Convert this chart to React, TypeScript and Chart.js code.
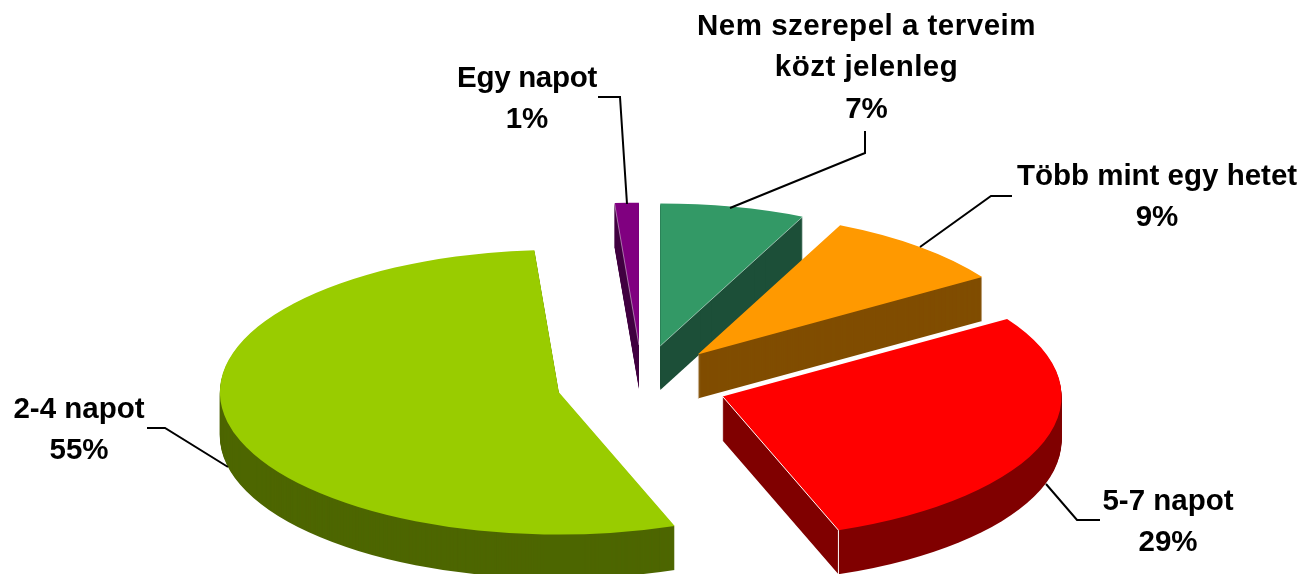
import React, { useEffect, useRef } from "react";
import { Chart, registerables } from "chart.js";

Chart.register(...registerables);

// Data, clockwise from twelve o'clock
const categories = ["Nem szerepel a terveim közt jelenleg", "Több mint egy hetet", "5-7 napot", "2-4 napot", "Egy napot"];
const labelLines = [
  ["Nem szerepel a terveim", "közt jelenleg"],
  ["Több mint egy hetet"],
  ["5-7 napot"],
  ["2-4 napot"],
  ["Egy napot"],
];
const values = [6.9, 8.95, 28.6, 54.4, 1.15];
const percentLabels = ["7%", "9%", "29%", "55%", "1%"];
const topColors = ["#339966", "#FF9900", "#FF0000", "#99CC00", "#800080"];
const wallColors = ["#1C4F38", "#804D00", "#800000", "#4D6600", "#400040"];

// Presentation
const CENTER_X = 642;
const CENTER_Y = 384;
const RADIUS = 339;
const SQUASH = 0.42;
const EXPLODE_X = 85;
const EXPLODE_Y = 39;
const DEPTH = 44;
const FONT = 'bold 29.5px "Liberation Sans", Arial, sans-serif';
const LINE_HEIGHT = 41.5;
const labelAnchors = [
  { x: 866.5, y: 26.5 },
  { x: 1157, y: 176.5 },
  { x: 1168, y: 501.5 },
  { x: 79, y: 409.5 },
  { x: 527, y: 78.5 },
];
const labelTracking = ["0.5px", "0px", "0px", "0px", "-0.3px"];
const leaders = [
  [[865, 131], [865, 153], [730, 208]],
  [[1012, 196], [991, 196], [920, 247]],
  [[1046, 484], [1077, 520], [1100, 520]],
  [[147, 428], [165, 428], [228, 467]],
  [[598, 97], [620, 97], [627, 204]],
];
const paintOrder = [4, 0, 1, 2, 3];
const edgeLines = [
  { side: "endAngle", color: "rgba(255,255,255,0.5)", corner: false },
  null,
  { side: "endAngle", color: "#ffffff", corner: true },
  null,
  { side: "startAngle", color: "rgba(255,255,255,0.45)", corner: false },
];

const pie3d = {
  id: "pie3d",
  beforeDatasetsDraw(chart: any) {
    const ctx: CanvasRenderingContext2D = chart.ctx;
    const arcs = chart.getDatasetMeta(0).data;
    const origin = (arc: any) => {
      const mid = (arc.startAngle + arc.endAngle) / 2;
      return [CENTER_X + Math.cos(mid) * EXPLODE_X, CENTER_Y + Math.sin(mid) * EXPLODE_Y];
    };
    const place = (arc: any, dy: number) => {
      const [ox, oy] = origin(arc);
      ctx.translate(ox, oy + dy);
      ctx.scale(1, SQUASH);
      ctx.translate(-arc.x, -arc.y);
    };
    for (const i of paintOrder) {
      const arc = arcs[i];
      ctx.fillStyle = wallColors[i];
      for (let d = DEPTH; d > 0; d--) {
        ctx.save();
        place(arc, d);
        ctx.beginPath();
        ctx.moveTo(arc.x, arc.y);
        ctx.arc(arc.x, arc.y, arc.outerRadius, arc.startAngle, arc.endAngle);
        ctx.closePath();
        ctx.fill();
        ctx.restore();
      }
      ctx.save();
      place(arc, 0);
      arc.draw(ctx);
      ctx.restore();

      const edge = edgeLines[i];
      if (edge) {
        const [ox, oy] = origin(arc);
        const angle = arc[edge.side];
        const ex = ox + Math.cos(angle) * arc.outerRadius;
        const ey = oy + Math.sin(angle) * arc.outerRadius * SQUASH;
        ctx.save();
        ctx.strokeStyle = edge.color;
        ctx.lineWidth = 1;
        ctx.beginPath();
        ctx.moveTo(ox, oy);
        ctx.lineTo(ex, ey);
        if (edge.corner) ctx.lineTo(ex, ey + DEPTH);
        ctx.stroke();
        ctx.restore();
      }
    }
    return false;
  },
  afterDraw(chart: any) {
    const ctx: CanvasRenderingContext2D = chart.ctx;
    ctx.save();
    ctx.strokeStyle = "#000000";
    ctx.lineWidth = 2;
    ctx.lineJoin = "miter";
    for (const pts of leaders) {
      ctx.beginPath();
      pts.forEach(([x, y], k) => (k ? ctx.lineTo(x, y) : ctx.moveTo(x, y)));
      ctx.stroke();
    }
    ctx.fillStyle = "#000000";
    ctx.font = FONT;
    ctx.textAlign = "center";
    ctx.textBaseline = "middle";
    labelLines.forEach((lines, i) => {
      const a = labelAnchors[i];
      (ctx as any).letterSpacing = labelTracking[i];
      lines.forEach((t, k) => ctx.fillText(t, a.x, a.y + k * LINE_HEIGHT));
      (ctx as any).letterSpacing = "0px";
      ctx.fillText(percentLabels[i], a.x, a.y + lines.length * LINE_HEIGHT);
    });
    ctx.restore();
  },
};

export default function App() {
  const ref = useRef<HTMLCanvasElement>(null);
  useEffect(() => {
    document.body.style.margin = "0";
    document.body.style.background = "#ffffff";
    const chart = new Chart(ref.current!, {
      type: "pie",
      data: {
        labels: categories,
        datasets: [{ data: values, backgroundColor: topColors, borderWidth: 0 }],
      },
      options: {
        responsive: false,
        animation: false,
        radius: RADIUS,
        rotation: 0,
        layout: { padding: 0 },
        plugins: { legend: { display: false }, tooltip: { enabled: false } },
      } as any,
      plugins: [pie3d as any],
    });
    return () => chart.destroy();
  }, []);
  return <canvas ref={ref} width={1306} height={574} style={{ display: "block" }} />;
}
